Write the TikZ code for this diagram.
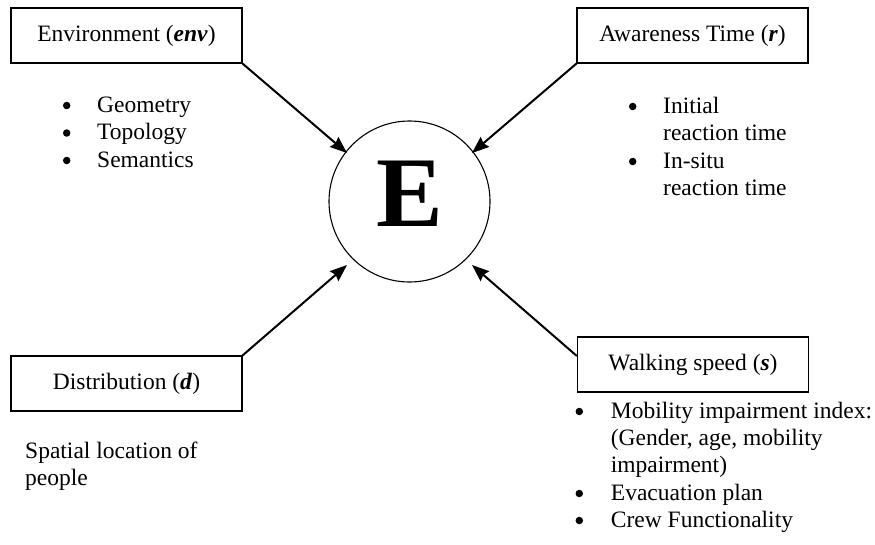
\documentclass[tikz,border=0pt]{standalone}
\usepackage{fontspec}
\setmainfont{Liberation Serif}
\usetikzlibrary{arrows.meta}
\begin{document}
\begin{tikzpicture}[x=1pt,y=-1pt,
  every node/.style={font=\fontsize{23.5}{27.5}\selectfont},
  factor/.style={draw,line width=1.3pt,minimum width=231pt,minimum height=55pt,inner sep=0pt},
  txt/.style={anchor=base west,inner sep=0pt},
  dot/.style={circle,fill=black,minimum size=7.5pt,inner sep=0pt,yshift=6.5pt},
  feed/.style={line width=2pt,-{Stealth[length=17pt,width=13pt,inset=2pt]}}]

\useasboundingbox (0,0) rectangle (875,544);

% central quantity
\node[draw,circle,line width=1.1pt,minimum size=161pt,inner sep=0pt,text depth=15pt,
      font=\fontsize{100}{100}\selectfont\bfseries] (E) at (409.5,201.5) {E};

% the four factors
\node[factor] (env) at (126.5,35.5) {Environment (\textbf{\textit{env}})};
\node[factor] (aw)  at (692.5,35.5) {Awareness Time (\textbf{\textit{r}})};
\node[factor] (dist) at (126.5,383.5) {Distribution (\textbf{\textit{d}})};
\node[factor] (walk) at (693,364.5) {Walking speed (\textbf{\textit{s}})};

% arrow end points
\coordinate (tEnv)  at (347,153);
\coordinate (tAw)   at (472,153);
\coordinate (tDist) at (347,265);
\coordinate (tWalk) at (472,265);
\coordinate (sWalk) at (walk.west |- 0,356);

\draw[feed] (env.south east) -- (tEnv);
\draw[feed] (aw.south west) -- (tAw);
\draw[feed] (dist.north east) -- (tDist);
\draw[feed] (sWalk) -- (tWalk);

% environment items (list markers sit at x-height middle)
\node[dot] (eb1) at (66.7,112) {};
\node[dot] (eb2) at (66.7,139.5) {};
\node[dot] (eb3) at (66.7,167) {};
\node[txt] (e1) at (97,112) {Geometry};
\node[txt] (e2) at (97,139.5) {Topology};
\node[txt] (e3) at (97,167) {Semantics};

% awareness items
\node[dot] (ab1) at (632.7,113) {};
\node[dot] (ab2) at (632.7,168) {};
\node[txt] (a1) at (663,113) {Initial};
\node[txt] (a2) at (663,140.5) {reaction time};
\node[txt] (a3) at (663,168) {In-situ};
\node[txt] (a4) at (663,195.5) {reaction time};

% distribution note
\node[txt] (d1) at (25,458) {Spatial location of};
\node[txt] (d2) at (25,485.5) {people};

% walking speed items
\node[dot] (wb1) at (579.3,418) {};
\node[dot] (wb2) at (579.3,500) {};
\node[dot] (wb3) at (579.3,527) {};
\node[txt] (w1) at (610.7,418) {Mobility impairment index:};
\node[txt] (w2) at (610.7,445) {(Gender, age, mobility};
\node[txt] (w3) at (610.7,472) {impairment)};
\node[txt] (w4) at (610.7,500) {Evacuation plan};
\node[txt] (w5) at (610.7,527) {Crew Functionality};
\end{tikzpicture}
\end{document}
